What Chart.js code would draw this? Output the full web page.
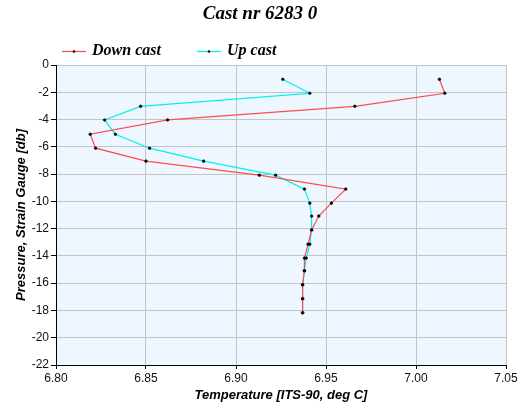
<!DOCTYPE html>
<html>
<head>
<meta charset="utf-8">
<script src="https://cdn.jsdelivr.net/npm/chart.js@4/dist/chart.umd.min.js"></script>
<style>
  body { margin: 0; background: #fff; }
  canvas { display: block; }
</style>
</head>
<body>
<canvas id="castChart" width="520" height="420"></canvas>
<script>
// Pressure levels (db), shared by both casts
const pressure = [-1.05, -2.07, -3.03, -4.03, -5.08, -6.10, -7.05, -8.08, -9.10,
    -10.13, -11.08, -12.10, -13.14, -14.16, -15.09, -16.12, -17.14, -18.17];

// Temperature readings (ITS-90, deg C)
const downCastTemp = [7.013, 7.016, 6.966, 6.862, 6.819, 6.822, 6.850, 6.913, 6.961,
    6.953, 6.946, 6.942, 6.940, 6.938, 6.938, 6.937, 6.937, 6.937];
const upCastTemp = [6.926, 6.941, 6.847, 6.827, 6.833, 6.852, 6.882, 6.922, 6.938,
    6.941, 6.942, 6.942, 6.941, 6.939, 6.938, 6.937, 6.937, 6.937];

const seriesNames = ['Down cast', 'Up cast'];
const xTicks = [6.80, 6.85, 6.90, 6.95, 7.00, 7.05];
const yTicks = [0, -2, -4, -6, -8, -10, -12, -14, -16, -18, -20, -22];

const chartTitle = 'Cast nr 6283 0';
const xTitle = 'Temperature [ITS-90, deg C]';
const yTitle = 'Pressure, Strain Gauge [db]';

function toPoints(temps) {
    return temps.map((t, i) => ({ x: t, y: pressure[i] }));
}

// Plot background + title + legend drawn by hand
const decorPlugin = {
    id: 'decor',
    beforeDraw(chart) {
        const { ctx, chartArea: a } = chart;
        ctx.save();
        ctx.fillStyle = '#eef6ff';
        ctx.fillRect(a.left, a.top, a.right - a.left, a.bottom - a.top);
        ctx.restore();
    },
    afterDraw(chart) {
        const ctx = chart.ctx;
        ctx.save();
        ctx.fillStyle = '#000';
        ctx.textBaseline = 'middle';
        ctx.textAlign = 'center';
        ctx.font = 'bold italic 19px "Liberation Serif", "DejaVu Serif", serif';
        ctx.fillText(chartTitle, 260, 14);

        // legend
        const items = [
            { x: 62, color: chart.data.datasets[0].borderColor, label: seriesNames[0] },
            { x: 197, color: chart.data.datasets[1].borderColor, label: seriesNames[1] }
        ];
        ctx.font = 'bold italic 16px "Liberation Serif", "DejaVu Serif", serif';
        ctx.textAlign = 'left';
        items.forEach(it => {
            ctx.strokeStyle = it.color;
            ctx.lineWidth = 1.2;
            ctx.beginPath();
            ctx.moveTo(it.x, 51.5);
            ctx.lineTo(it.x + 24, 51.5);
            ctx.stroke();
            ctx.fillStyle = '#000';
            ctx.beginPath();
            ctx.arc(it.x + 12, 51.5, 1.3, 0, Math.PI * 2);
            ctx.fill();
            ctx.fillText(it.label, it.x + 30, 51);
        });
        ctx.restore();
    }
};

new Chart(document.getElementById('castChart'), {
    type: 'scatter',
    data: {
        datasets: [
            {
                label: seriesNames[0],
                data: toPoints(downCastTemp),
                showLine: true,
                borderColor: '#ff4d4d',
                borderWidth: 1.2,
                pointRadius: 1.3,
                pointBackgroundColor: '#000',
                pointBorderColor: '#000',
                pointBorderWidth: 0.6
            },
            {
                label: seriesNames[1],
                data: toPoints(upCastTemp),
                showLine: true,
                borderColor: '#00f0f0',
                borderWidth: 1.2,
                pointRadius: 1.3,
                pointBackgroundColor: '#000',
                pointBorderColor: '#000',
                pointBorderWidth: 0.6
            }
        ]
    },
    options: {
        responsive: false,
        animation: false,
        layout: { padding: { top: 65, right: 14, left: 0, bottom: 0 } },
        plugins: {
            legend: { display: false },
            title: { display: false },
            tooltip: { enabled: false }
        },
        scales: {
            x: {
                type: 'linear',
                min: 6.80,
                max: 7.05,
                afterBuildTicks: scale => { scale.ticks = xTicks.map(v => ({ value: v })); },
                afterFit: scale => { scale.height = 55; },
                ticks: {
                    color: '#111',
                    font: { family: '"Liberation Sans", Arial, sans-serif', size: 12 },
                    padding: 2,
                    maxRotation: 0,
                    callback: v => Number(v).toFixed(2)
                },
                grid: { color: '#c4c4c4', tickColor: '#000', tickLength: 4, lineWidth: 1 },
                border: { color: '#000', width: 1 },
                title: {
                    display: true,
                    text: xTitle,
                    color: '#000',
                    font: { family: '"Liberation Sans", Arial, sans-serif', size: 13, weight: 'bold', style: 'italic' },
                    padding: { top: 0, bottom: 17 }
                }
            },
            y: {
                type: 'linear',
                min: -22,
                max: 0,
                afterBuildTicks: scale => { scale.ticks = yTicks.map(v => ({ value: v })); },
                afterFit: scale => { scale.width = 56; },
                ticks: {
                    color: '#111',
                    font: { family: '"Liberation Sans", Arial, sans-serif', size: 12 },
                    padding: 2
                },
                grid: { color: '#c4c4c4', tickColor: '#000', tickLength: 5, lineWidth: 1 },
                border: { color: '#000', width: 1 },
                title: {
                    display: true,
                    text: yTitle,
                    color: '#000',
                    font: { family: '"Liberation Sans", Arial, sans-serif', size: 13, weight: 'bold', style: 'italic' },
                    padding: { top: 14, bottom: 0 }
                }
            }
        }
    },
    plugins: [decorPlugin]
});
</script>
</body>
</html>
